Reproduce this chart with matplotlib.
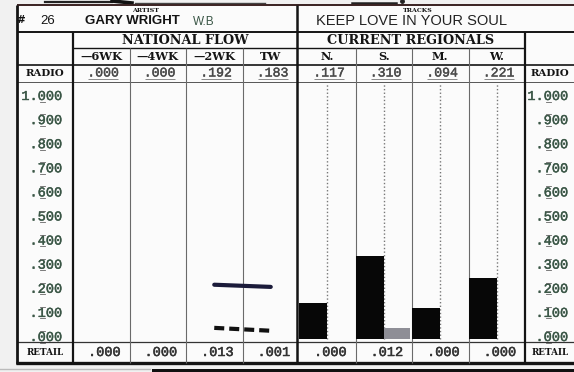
import numpy as np
import matplotlib
matplotlib.use("Agg")
import matplotlib.pyplot as plt
import matplotlib.transforms as mtransforms
import matplotlib.patheffects as pe

# ---- chart content ----
rank = "26"
artist = "GARY WRIGHT"
label = "W.B"
track = "KEEP LOVE IN YOUR SOUL"
flow_weeks = ["\u20146WK", "\u20144WK", "\u20142WK", "TW"]
regions = ["N.", "S.", "M.", "W."]
flow_radio = [0.000, 0.000, 0.192, 0.183]
flow_retail = [0.000, 0.000, 0.013, 0.001]
region_radio = [0.117, 0.310, 0.094, 0.221]
region_retail = [0.000, 0.012, 0.000, 0.000]
scale_ticks = [1.0, 0.9, 0.8, 0.7, 0.6, 0.5, 0.4, 0.3, 0.2, 0.1, 0.0]


def fmt(v):
    s = f"{v:.3f}"
    return s[1:] if s.startswith("0") else s


# ---- geometry (pixels) ----
W, H = 574, 372
X_L, X_C0, X_MID, X_CE = 17, 73, 297, 525
col_edges = np.linspace(X_C0, X_CE, 9)
col_mid = (col_edges[:-1] + col_edges[1:]) / 2
Y_TOP, Y_HDR, Y_GRP, Y_COL, Y_RAD, Y_PB, Y_BOT = 5, 32, 48, 65, 82, 342, 363
PX_ZERO, PX_PER_UNIT = 331, 241
y_lo = (PX_ZERO - Y_PB) / PX_PER_UNIT
y_hi = (PX_ZERO - Y_RAD) / PX_PER_UNIT
BAR_BASE = (PX_ZERO - 339) / PX_PER_UNIT

SERIF = "DejaVu Serif"
MONO = "Liberation Mono"
SANS = "Liberation Sans"
INK = "#141414"
GREEN_INK = "#3a5646"


def heavy(color, w=0.45):
    return [pe.withStroke(linewidth=w, foreground=color)]


fig = plt.figure(figsize=(W / 100, H / 100), dpi=100, facecolor="#f1f1f1")

# overlay in pixel coordinates for the ruled table and its text
ov = fig.add_axes([0, 0, 1, 1], zorder=0)
ov.set_xlim(0, W)
ov.set_ylim(H, 0)
ov.axis("off")
ov.add_patch(plt.Rectangle((X_L, Y_TOP), W - X_L, Y_BOT - Y_TOP,
                           facecolor="#fbfbfb", edgecolor="none", zorder=0))

# chart area for the bars and flow lines
ax = fig.add_axes([X_C0 / W, (H - Y_PB) / H, (X_CE - X_C0) / W, (Y_PB - Y_RAD) / H],
                  zorder=2)
ax.set_xlim(0, 8)
ax.set_ylim(y_lo, y_hi)
ax.patch.set_alpha(0)
ax.axis("off")


def hline(y, x0, x1, lw=0.8, c=INK):
    ov.plot([x0, x1], [y, y], color=c, lw=lw, solid_capstyle="butt", zorder=3)


def vline(x, y0, y1, lw=0.8, c=INK):
    ov.plot([x, x], [y0, y1], color=c, lw=lw, solid_capstyle="butt", zorder=3)


# stray marks from the neighbouring entry above
ov.plot([45, 112], [1.5, 1.5], color="#222", lw=1.6, zorder=3)
ov.plot([112, 132], [1, 3], color="#111", lw=2.6, zorder=3)
ov.plot([135, 265], [3, 3], color="#444", lw=1.0, zorder=3)
ov.plot([352, 396], [2.5, 2.5], color="#222", lw=1.8, zorder=3)
ov.plot([402], [0.5], "o", color="#222", ms=2.5, zorder=3)

# horizontal rules
hline(Y_TOP, X_L, W, lw=1.4, c="#3a2222")
hline(Y_HDR, X_L, W, lw=1.4)
hline(Y_GRP, X_C0, X_CE, lw=1.0)
hline(Y_COL, X_L, W, lw=1.2)
hline(Y_RAD, X_L, W, lw=0.7, c="#555")
hline(Y_PB, X_L, W, lw=0.9, c="#333")
hline(Y_BOT, X_L - 1, W, lw=2.4)

# vertical rules
vline(X_L, Y_TOP, Y_BOT + 1, lw=2.0)
vline(X_MID, Y_TOP, Y_BOT, lw=1.8)
vline(X_C0, Y_HDR, Y_BOT, lw=1.6)
vline(X_CE, Y_HDR, Y_BOT, lw=1.6)
for i, x in enumerate(col_edges[1:-1]):
    if i == 3:
        continue
    vline(x, Y_GRP, Y_BOT, lw=0.8, c="#6a6a6a")

# rule under the entry below
ov.plot([0, 150], [369, 369], color="#bbbbbb", lw=1.0, zorder=3)
ov.add_patch(plt.Rectangle((152, 368.5), W - 152, 4, facecolor="#111",
                           edgecolor="none", zorder=3))

# header row
ov.text(21, 20, "#", fontsize=7.5, fontweight="bold", family="DejaVu Sans",
        ha="center", va="center", color=INK)
ov.text(48, 20.5, rank, fontsize=9.5, family=SANS, ha="center", va="center", color=INK)
ov.text(146, 10, "ARTIST", fontsize=4.5, fontweight="bold", family=SERIF,
        ha="center", va="center", color=INK)
ov.text(85, 21.5, artist, fontsize=9.5, fontweight="bold", family=SANS,
        ha="left", va="center", color=INK)
ov.text(193, 22, label, fontsize=8.5, family=SANS, ha="left", va="center",
        color=GREEN_INK)
ov.text(418, 10, "TRACKS", fontsize=4.5, fontweight="bold", family=SERIF,
        ha="center", va="center", color=INK)
ov.text(411, 21, track, fontsize=10.5, family=SANS, ha="center", va="center",
        color="#222")

# group titles
ov.text((X_C0 + X_MID) / 2, 40.5, "NATIONAL FLOW", fontsize=9.3,
        fontweight="bold", family=SERIF, ha="center", va="center", color=INK)
ov.text((X_MID + X_CE) / 2, 40.5, "CURRENT REGIONALS", fontsize=9.3,
        fontweight="bold", family=SERIF, ha="center", va="center", color=INK)

# column titles
for x, t in zip(col_mid, flow_weeks + regions):
    ov.text(x, 57, t, fontsize=8.2, fontweight="bold", family=SERIF,
            ha="center", va="center", color=INK)

# radio and retail rows
for xc in (45, 550):
    ov.text(xc, 74, "RADIO", fontsize=7.4, fontweight="bold", family=SERIF,
            ha="center", va="center", color=INK)
    ov.text(xc, 352.5, "RETAIL", fontsize=6.3, fontweight="bold", family=SERIF,
            ha="center", va="center", color=INK)

for x, v in zip(col_mid, flow_radio + region_radio):
    ov.text(x + 2, 73.5, fmt(v), fontsize=9.5, family=MONO, ha="center",
            va="center", color="#4a4a4a", path_effects=heavy("#4a4a4a", 0.3))
    hline(78.5, x - 13, x + 17, lw=0.6, c="#777")
for x, v in zip(col_mid, flow_retail + region_retail):
    ov.text(x + 3, 352, fmt(v), fontsize=9.8, family=MONO, ha="center",
            va="center", color="#333", path_effects=heavy("#333", 0.35))

# value scales on both sides
scale_tr = mtransforms.blended_transform_factory(ov.transData, ax.transData)
label_tr = mtransforms.offset_copy(scale_tr, fig=fig, x=0, y=-6, units="dots")
under_tr = mtransforms.offset_copy(scale_tr, fig=fig, x=0, y=-11.5, units="dots")
CW = 7.9
for right in (62, 568):
    d0, d1 = right - 3 * CW, right - 2 * CW
    for v in scale_ticks:
        ov.text(right, v, fmt(v), fontsize=9.8, family=MONO, ha="right",
                va="center", color=GREEN_INK, transform=label_tr, zorder=4,
                path_effects=heavy(GREEN_INK, 0.3))
        ov.plot([d0 + 1.5, d1 - 1.5], [v, v], color="#666", lw=0.6,
                transform=(scale_tr if v < 1 else under_tr), zorder=4)
        if v < 1:
            ov.plot([d0 + 1.5, d1 - 1.5], [v, v], color="#666", lw=0.6,
                    transform=under_tr, zorder=4)

# ---- data marks ----
xr = np.arange(4) + 4
ax.vlines(xr + 0.5, BAR_BASE, y_hi - 0.01, colors="#777", lw=1.0,
          linestyles=(0, (1, 1.6)), zorder=1)

radio_r = np.array(region_radio)
retail_r = np.array(region_retail)
m = radio_r > 0
ax.bar(xr[m], radio_r[m] - BAR_BASE, bottom=BAR_BASE, width=0.5, align="edge",
       color="#070707", edgecolor="none", zorder=3)
m = retail_r > 0
ax.bar(xr[m] + 0.5, retail_r[m] - BAR_BASE, bottom=BAR_BASE, width=0.47,
       align="edge", color="#8e8e96", edgecolor="none", zorder=3)

xf = np.arange(4) + 0.5
fr = np.array(flow_radio)
ft = np.array(flow_retail)
ax.plot(xf, np.where(fr > 0, fr, np.nan), color="#1b1b3a", lw=3.0,
        solid_capstyle="round", zorder=4)
ax.plot(xf, np.where(ft > 0, ft, np.nan), color="#111111", lw=3.0,
        linestyle=(0, (2.4, 1.2)), dash_capstyle="butt", zorder=4)

fig.savefig("out.png", dpi=100, facecolor=fig.get_facecolor())
